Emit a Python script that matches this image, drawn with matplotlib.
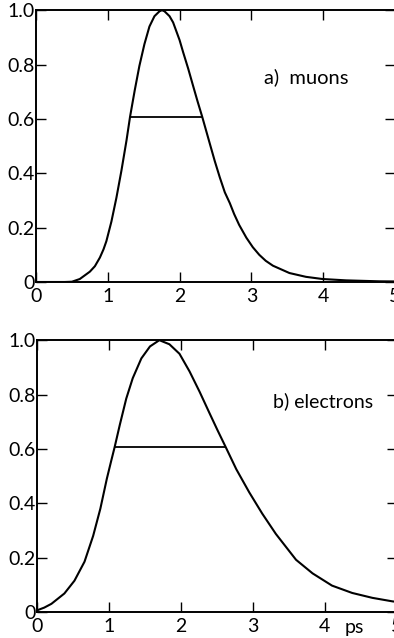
import matplotlib
matplotlib.use("Agg")
import matplotlib.pyplot as plt

# ---------------------------
# Data
# ---------------------------

muon_t = [0.0, 0.40, 0.50, 0.61, 0.75, 0.82, 0.89, 0.94, 0.98, 1.05, 1.12, 1.19,
          1.26, 1.31, 1.375, 1.44, 1.51, 1.58, 1.65, 1.72, 1.755, 1.79, 1.86,
          1.91, 2.00, 2.05, 2.12, 2.19, 2.25, 2.315, 2.42, 2.49, 2.56, 2.63,
          2.70, 2.76, 2.83, 2.93, 3.02, 3.11, 3.20, 3.30, 3.53, 3.76, 3.99,
          4.32, 4.78, 5.0]
muon_y = [0.0, 0.0, 0.001, 0.011, 0.038, 0.058, 0.09, 0.12, 0.15, 0.222, 0.31,
          0.41, 0.52, 0.608, 0.705, 0.795, 0.875, 0.94, 0.978, 0.996, 1.0, 0.996,
          0.978, 0.955, 0.89, 0.845, 0.785, 0.72, 0.665, 0.608, 0.51, 0.445,
          0.385, 0.33, 0.29, 0.25, 0.21, 0.163, 0.128, 0.10, 0.078, 0.06, 0.033,
          0.019, 0.011, 0.006, 0.0025, 0.002]

elec_t = [0.0, 0.10, 0.20, 0.38, 0.52, 0.66, 0.78, 0.88, 0.97, 1.03, 1.08, 1.15,
          1.24, 1.33, 1.45, 1.57, 1.70, 1.84, 1.98, 2.12, 2.26, 2.40, 2.51,
          2.62, 2.77, 2.95, 3.13, 3.32, 3.60, 3.83, 4.10, 4.38, 4.66, 4.94, 5.0]
elec_y = [0.006, 0.016, 0.03, 0.068, 0.115, 0.185, 0.28, 0.38, 0.49, 0.555,
          0.608, 0.688, 0.785, 0.86, 0.933, 0.977, 1.0, 0.985, 0.95, 0.885, 0.81,
          0.73, 0.668, 0.608, 0.525, 0.44, 0.362, 0.287, 0.192, 0.142, 0.097,
          0.07, 0.052, 0.039, 0.037]

# half-width bars (level, start, end)
muon_fw = (0.607, 1.31, 2.315)
elec_fw = (0.607, 1.08, 2.62)

x_ticks = [0, 1, 2, 3, 4, 5]
x_labels = ["0", "1", "2", "3", "4", "5"]
y_ticks = [0, 0.2, 0.4, 0.6, 0.8, 1.0]
y_labels = ["0", "0.2", "0.4", "0.6", "0.8", "1.0"]

plt.rcParams["font.family"] = ["Lato", "DejaVu Sans"]

fig = plt.figure(figsize=(3.94, 6.38), dpi=100)
ax_a = fig.add_axes([0.0914, 0.558, 0.911, 0.426])
ax_b = fig.add_axes([0.094, 0.0408, 0.913, 0.426])


def style_axes(ax):
    ax.set_xlim(0, 5)
    ax.set_ylim(0, 1.0)
    for s in ax.spines.values():
        s.set_linewidth(1.4)
    ax.set_xticks(x_ticks)
    ax.set_xticklabels(x_labels)
    ax.set_yticks(y_ticks)
    ax.set_yticklabels(y_labels)
    ax.tick_params(direction="in", length=7, width=1.0, labelsize=14,
                   top=True, right=True)
    ax.tick_params(axis="x", pad=4)
    ax.tick_params(axis="y", pad=1)


style_axes(ax_a)
ax_a.plot(muon_t, muon_y, color="black", lw=1.5)
ax_a.hlines(muon_fw[0], muon_fw[1], muon_fw[2], color="black", lw=1.3)
ax_a.text(3.18, 0.754, "a)  muons", fontsize=14.5, va="center", ha="left")

style_axes(ax_b)
ax_b.plot(elec_t, elec_y, color="black", lw=1.5)
ax_b.hlines(elec_fw[0], elec_fw[1], elec_fw[2], color="black", lw=1.3)
ax_b.text(3.28, 0.777, "b) electrons", fontsize=14, va="center", ha="left")
ax_b.text(4.28, -0.025, "ps", fontsize=14, va="top", ha="left")

fig.savefig("out.png", dpi=100)
